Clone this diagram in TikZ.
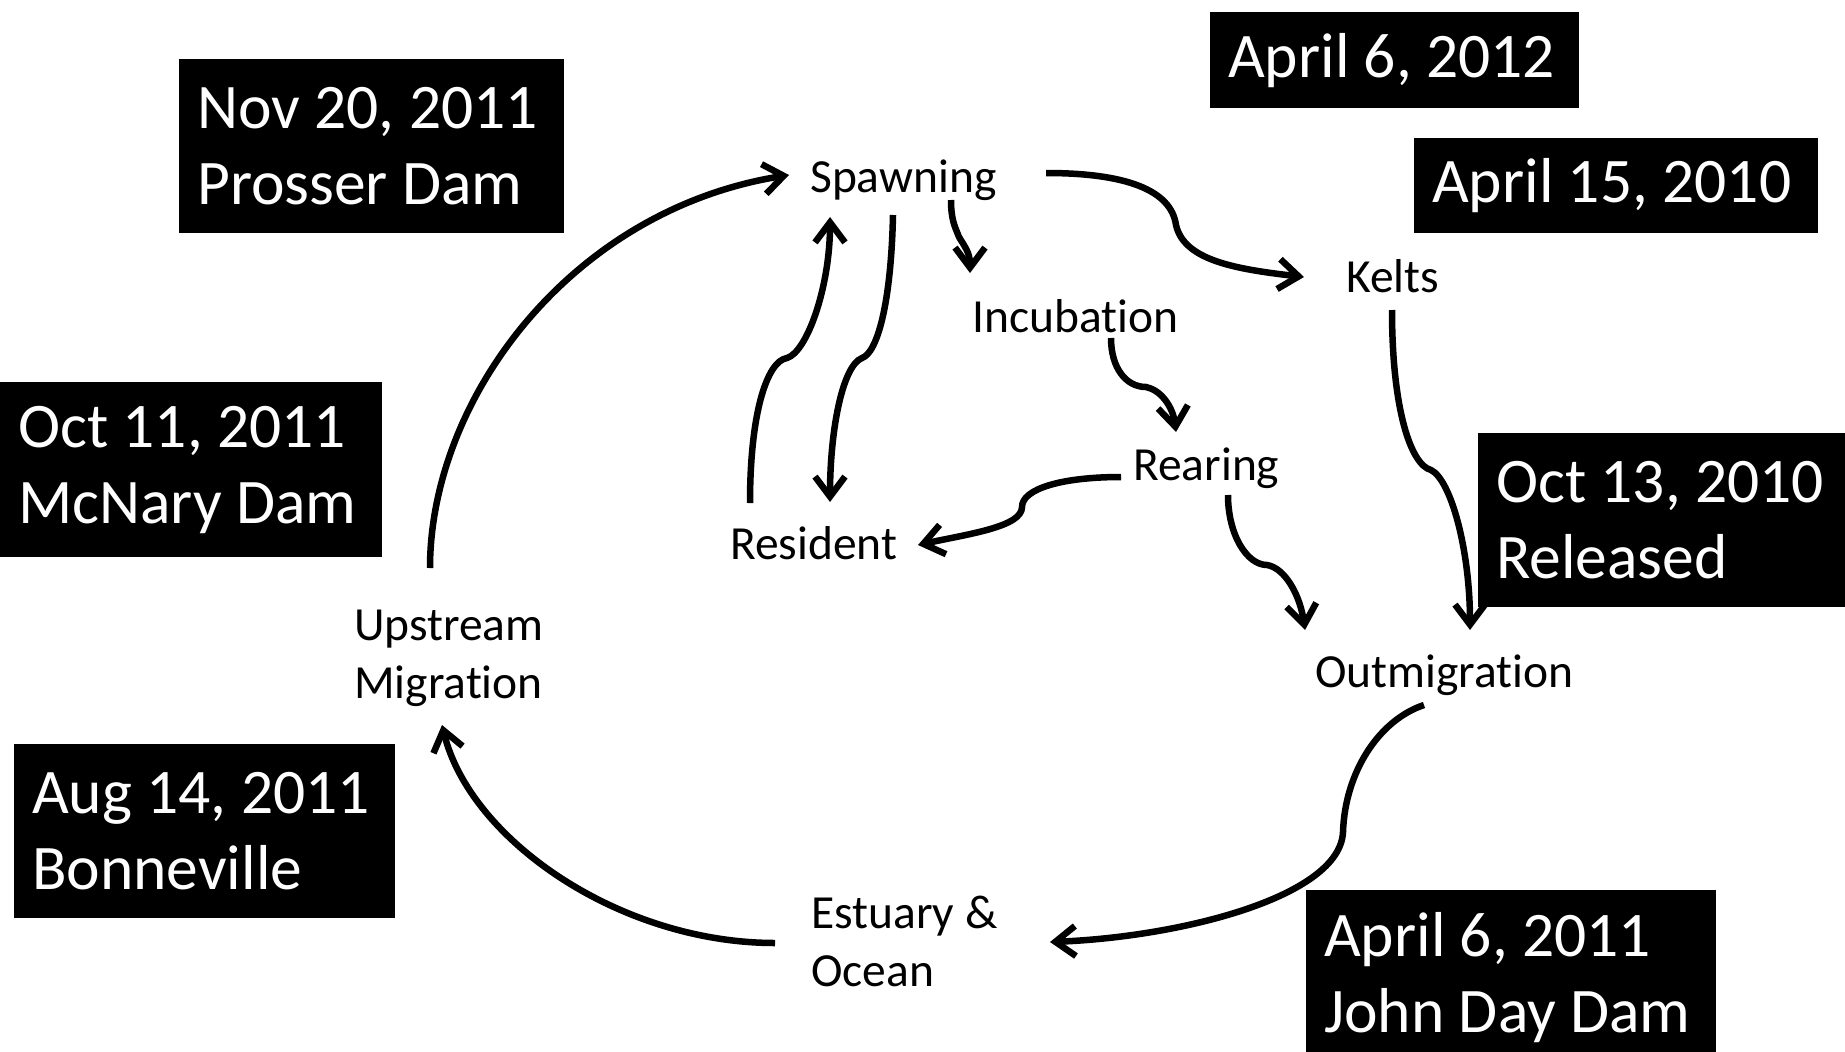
\documentclass[tikz,border=0pt]{standalone}
\usepackage{fontspec}
\setmainfont{Carlito}[Ligatures=NoCommon]
\usepackage{tikz}
\usetikzlibrary{arrows.meta,calc}

\newcommand{\stagefont}{\fontsize{47.5pt}{58pt}\selectfont}
\newcommand{\datefont}{\fontsize{63.5pt}{76pt}\selectfont}

\begin{document}
\begin{tikzpicture} [x=1pt, y=-1pt,
    stage/.style={font=\stagefont, inner sep=0pt, align=left},
    datebox/.style={fill=black, text=white, font=\datefont, align=flush left,
      anchor=north west, inner xsep=18pt, inner ysep=0pt},
    flow/.style={line width=6.5pt, -{Straight Barb[length=20pt,width=30pt]}} ]
  \useasboundingbox (0,0) rectangle (1845,1052);

  % life stages
  \node[stage, anchor=base west] (spawn)    at (810,192)  {Spawning};
  \node[stage, anchor=base west] (kelts)    at (1346,292) {Kelts};
  \node[stage, anchor=base west] (incub)    at (972,332)  {Incubation};
  \node[stage, anchor=base west] (rear)     at (1133,480) {Rearing};
  \node[stage, anchor=base west] (resident) at (730,559)  {Resident};
  \node[stage, anchor=north west] (upstream) at (354,610) {Upstream\\Migration};
  \node[stage, anchor=north west] (estuary) at (811,896)  {Estuary \&\\Ocean};
  \node[stage, anchor=base west] (outmig)   at (1315,687) {Outmigration};

  % dates
  \node[datebox, text width=333pt, minimum height=96pt]  (apr12)  at (1210,12)  {April 6, 2012};
  \node[datebox, text width=368pt, minimum height=95pt]  (apr10)  at (1414,138) {April 15, 2010};
  \node[datebox, text width=349pt, minimum height=174pt] (nov11)  at (179,59)   {Nov 20, 2011\\Prosser Dam};
  \node[datebox, text width=346pt, minimum height=175pt] (oct11)  at (0,382)    {Oct 11, 2011\\McNary Dam};
  \node[datebox, text width=356pt, minimum height=174pt] (oct10)  at (1478,433) {Oct 13, 2010\\Released};
  \node[datebox, text width=345pt, minimum height=174pt] (aug11)  at (14,744)   {Aug 14, 2011\\Bonneville};
  \node[datebox, text width=374pt, minimum height=175pt] (apr11)  at (1306,890) {April 6, 2011\\John Day Dam};

  % flows
  \draw[flow] ($(upstream.north west)+(76,-42)$) .. controls +(0,-168) and +(-219,35) .. ($(spawn.base west)+(-21,-17)$);
  \draw[flow] ($(spawn.base west)+(236,-19)$) .. controls +(80,0) and +(-5,-35) .. (1176,225)
    .. controls +(8,35) and +(-70,-8) .. ($(kelts.base west)+(-42,-15)$);
  \draw[flow] ($(spawn.base west)+(141,8)$) .. controls +(0,20) and +(-4,-10) .. (959,237)
    .. controls +(6,10) and +(0,-20) .. ($(incub.base west)+(-2,-59)$);
  \draw[flow] ($(incub.base west)+(139,6)$) .. controls +(0,30) and +(-20,0) .. (1146,387)
    .. controls +(15,3) and +(-3,-25) .. ($(rear.base west)+(43,-48)$);
  \draw[flow] ($(rear.base west)+(-12,-3)$) .. controls +(-60,0) and +(0,-18) .. (1022,507)
    .. controls +(0,20) and +(50,-11) .. ($(resident.base west)+(188,-14)$);
  \draw[flow] ($(rear.base west)+(95,15)$) .. controls +(0,40) and +(-20,0) .. (1267,565)
    .. controls +(18,3) and +(-5,-35) .. ($(outmig.base west)+(-10,-57)$);
  \draw[flow] ($(kelts.base west)+(46,18)$) .. controls +(0,100) and +(-20,-5) .. (1431,470)
    .. controls +(20,10) and +(0,-80) .. ($(outmig.base west)+(155,-57)$);
  \draw[flow] ($(spawn.base west)+(83,23)$) .. controls +(-2,90) and +(15,-5) .. (862,358)
    .. controls +(-20,8) and +(0,-70) .. ($(resident.base west)+(100,-57)$);
  \draw[flow] ($(resident.base west)+(20,-56)$) .. controls +(0,-90) and +(-20,3) .. (787,358)
    .. controls +(20,-6) and +(0,70) .. ($(spawn.base west)+(20,25)$);
  \draw[flow] ($(outmig.base west)+(109,18)$) .. controls +(-45,15) and +(2,-60) .. (1343,832)
    .. controls +(-3,65) and +(130,-5) .. ($(estuary.north west)+(239,46)$);
  \draw[flow] ($(estuary.north west)+(-36,47)$) .. controls +(-155,0) and +(28,115) .. ($(upstream.north west)+(88,115)$);
\end{tikzpicture}
\end{document}
